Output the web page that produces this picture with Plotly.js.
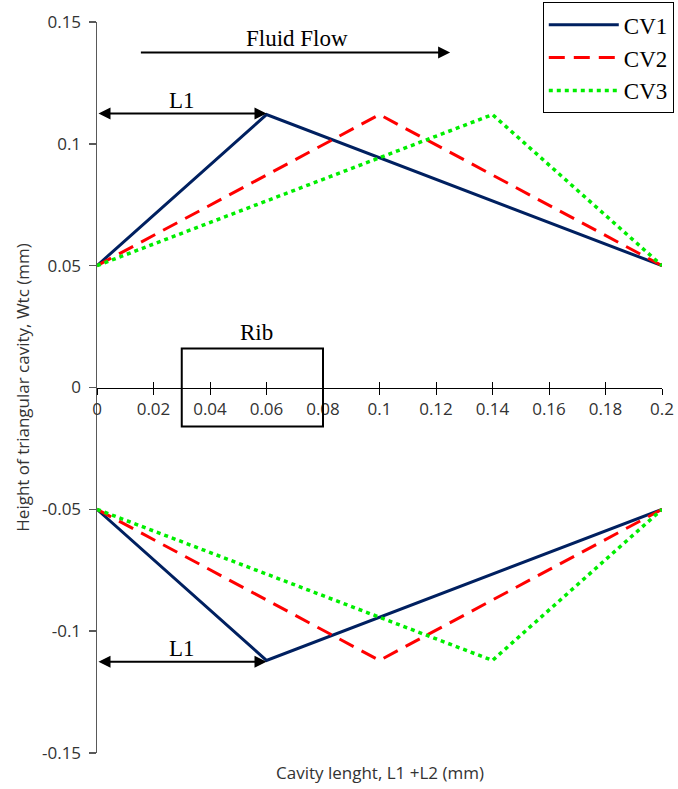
<!DOCTYPE html>
<html>
<head>
<meta charset="utf-8">
<script src="https://cdn.plot.ly/plotly-3.0.1.min.js"></script>
<style>html,body{margin:0;padding:0;background:#fff;}#chart{width:678px;height:789px;}</style>
</head>
<body>
<div id="chart"></div>
<script>
// ---- data ----
const seriesNames = ["CV1", "CV2", "CV3"];
const cv1X = [0, 0.06, 0.2];
const cv2X = [0, 0.10, 0.2];
const cv3X = [0, 0.14, 0.2];
const upperH = [0.05, 0.112, 0.05];
const lowerH = [-0.05, -0.112, -0.05];
const xTickVals = [0, 0.02, 0.04, 0.06, 0.08, 0.1, 0.12, 0.14, 0.16, 0.18, 0.2];
const xTickText = ["0", "0.02", "0.04", "0.06", "0.08", "0.1", "0.12", "0.14", "0.16", "0.18", "0.2"];
const yTickVals = [0.15, 0.1, 0.05, 0, -0.05, -0.1, -0.15];
const yTickText = ["0.15", "0.1", "0.05", "0", "-0.05", "-0.1", "-0.15"];
// annotation geometry (data units)
const flowArrow = {x0: 0.015, x1: 0.125, y: 0.1375};
const l1Upper = {x0: 0, x1: 0.06, y: 0.1125};
const l1Lower = {x0: 0, x1: 0.06, y: -0.1125};
const ribBox = {x0: 0.03, x1: 0.08, y0: -0.016, y1: 0.016};

function both(xs) {
  return {x: xs.concat([null]).concat(xs), y: upperH.concat([null]).concat(lowerH)};
}
const styles = [
  {color: "#002060", dash: "solid", width: 3},
  {color: "#FF0000", dash: "16px,9px", width: 3},
  {color: "#00EE00", dash: "4px,4px", width: 3.5}
];
const xs = [cv1X, cv2X, cv3X];
const traces = xs.map((xv, i) => {
  const d = both(xv);
  return {
    x: d.x, y: d.y, name: seriesNames[i], type: "scatter", mode: "lines",
    connectgaps: false, line: styles[i], xaxis: "x", yaxis: "y"
  };
});
// dummy trace for crossing-tick overlay axis
traces.push({x: [0, 0.2], y: [0, 0], xaxis: "x2", yaxis: "y", mode: "lines",
  line: {width: 0}, showlegend: false, hoverinfo: "skip"});

const serif = {family: "Liberation Serif, Times New Roman, serif", size: 23, color: "#000"};
const legFont = {family: "Liberation Serif, Times New Roman, serif", size: 23, color: "#000"};
const sans = {family: "Open Sans, Noto Sans, sans-serif", size: 17, color: "#333"};
const arrowCommon = {showarrow: true, text: "", axref: "x", ayref: "y", xref: "x", yref: "y",
  arrowhead: 2, arrowsize: 1.2, arrowwidth: 2, arrowcolor: "#000", standoff: 0, startstandoff: 0};

const layout = {
  width: 678, height: 789,
  margin: {l: 97, r: 16, t: 22, b: 36, autoexpand: false},
  paper_bgcolor: "#fff", plot_bgcolor: "#fff",
  showlegend: true,
  legend: {x: 0.789, y: 1.027, xanchor: "left", yanchor: "top", itemwidth: 70,
    bordercolor: "#000", borderwidth: 1, bgcolor: "#fff", font: legFont},
  xaxis: {
    range: [0, 0.2], anchor: "free", position: 0.5,
    tickvals: xTickVals, ticktext: xTickText,
    ticks: "outside", ticklen: 6, tickwidth: 1, tickcolor: "#000",
    showline: true, linecolor: "#000", linewidth: 1.5,
    showgrid: false, zeroline: false, tickfont: sans
  },
  xaxis2: {
    range: [0, 0.2], overlaying: "x", anchor: "free", position: 0.5,
    tickvals: xTickVals, ticks: "inside", ticklen: 6, tickwidth: 1, tickcolor: "#000",
    showticklabels: false, showline: false, showgrid: false, zeroline: false
  },
  yaxis: {
    range: [-0.15, 0.15],
    tickvals: yTickVals, ticktext: yTickText,
    ticks: "outside", ticklen: 7, tickwidth: 1.5, tickcolor: "#595959",
    showline: true, linecolor: "#595959", linewidth: 1.5,
    showgrid: false, zeroline: false, tickfont: sans, ticklabelstandoff: 4,
    title: {text: "Height of triangular cavity, Wtc (mm)", font: sans, standoff: 8}
  },
  shapes: [
    {type: "rect", xref: "x", yref: "y", x0: ribBox.x0, x1: ribBox.x1, y0: ribBox.y0, y1: ribBox.y1,
      line: {color: "#000", width: 2}}
  ],
  annotations: [
    Object.assign({}, arrowCommon, {x: flowArrow.x1, y: flowArrow.y, ax: flowArrow.x0, ay: flowArrow.y}),
    Object.assign({}, arrowCommon, {x: l1Upper.x1, y: l1Upper.y, ax: l1Upper.x0, ay: l1Upper.y,
      arrowside: "end+start", startarrowhead: 2, startarrowsize: 1.2}),
    Object.assign({}, arrowCommon, {x: l1Lower.x1, y: l1Lower.y, ax: l1Lower.x0, ay: l1Lower.y,
      arrowside: "end+start", startarrowhead: 2, startarrowsize: 1.2}),
    {xref: "x", yref: "y", x: 0.0708, y: 0.1432, text: "Fluid Flow", showarrow: false, font: serif},
    {xref: "x", yref: "y", x: 0.030, y: 0.1178, text: "L1", showarrow: false, font: serif},
    {xref: "x", yref: "y", x: 0.030, y: -0.1071, text: "L1", showarrow: false, font: serif},
    {xref: "x", yref: "y", x: 0.0566, y: 0.0226, text: "Rib", showarrow: false, font: serif},
    {xref: "paper", yref: "paper", x: 0.5, y: -0.026, yanchor: "middle", text: "Cavity lenght, L1 +L2 (mm)",
      showarrow: false, font: sans}
  ]
};
Plotly.newPlot("chart", traces, layout, {displayModeBar: false, staticPlot: true});
</script>
</body>
</html>
